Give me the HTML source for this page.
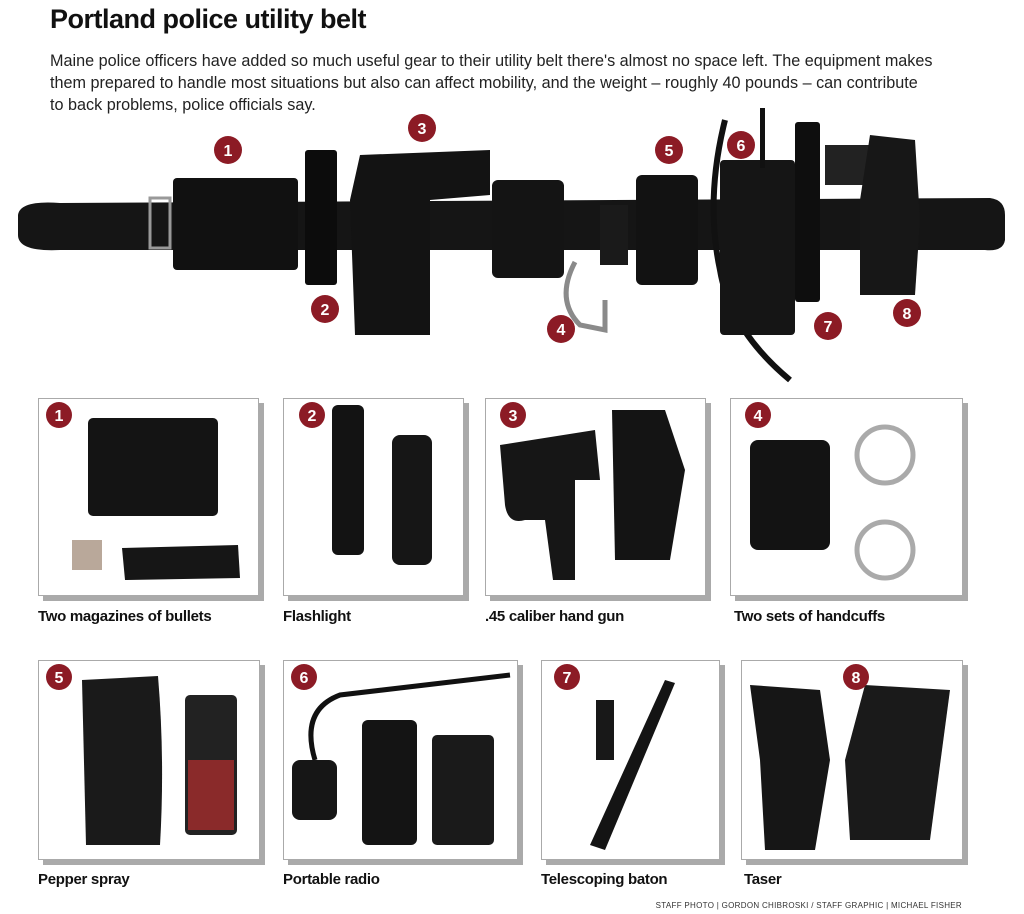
<!DOCTYPE html>
<html><head><meta charset="utf-8"><style>
*{margin:0;padding:0;box-sizing:border-box}
body{width:1024px;height:914px;background:#fff;position:relative;overflow:hidden;font-family:"Liberation Sans",sans-serif;color:#111}
.t{position:absolute;left:50px;top:4px;font-size:27px;font-weight:bold;letter-spacing:-0.5px}
.p{position:absolute;left:50px;top:50px;width:960px;font-size:16.2px;line-height:22px;color:#222;white-space:nowrap}
.box{position:absolute;border:1px solid #aaa;background:#fff;box-shadow:5px 5px 0 #aaa}
.lb{position:absolute;font-size:15px;font-weight:bold;letter-spacing:-0.3px}
.cr{position:absolute;right:62px;top:901px;font-size:8px;color:#333;letter-spacing:0.3px}
svg{position:absolute;left:0;top:0}
</style></head><body>
<div class="t">Portland police utility belt</div>
<div class="p">Maine police officers have added so much useful gear to their utility belt there's almost no space left. The equipment makes<br>them prepared to handle most situations but also can affect mobility, and the weight – roughly 40 pounds – can contribute<br>to back problems, police officials say.</div>

<div class="box" style="left:38px;top:398px;width:221px;height:198px"></div>
<div class="box" style="left:283px;top:398px;width:181px;height:198px"></div>
<div class="box" style="left:485px;top:398px;width:221px;height:198px"></div>
<div class="box" style="left:730px;top:398px;width:233px;height:198px"></div>
<div class="box" style="left:38px;top:660px;width:222px;height:200px"></div>
<div class="box" style="left:283px;top:660px;width:235px;height:200px"></div>
<div class="box" style="left:541px;top:660px;width:179px;height:200px"></div>
<div class="box" style="left:741px;top:660px;width:222px;height:200px"></div>

<svg width="1024" height="914" viewBox="0 0 1024 914">
<path d="M18 215 Q20 200 60 203 L990 198 Q1005 200 1005 215 L1005 240 Q1003 252 985 250 L60 250 Q18 252 18 235Z" fill="#151515"/>
<rect x="150" y="198" width="20" height="50" fill="none" stroke="#999" stroke-width="3"/>
<rect x="173" y="178" width="125" height="92" rx="4" fill="#111"/>
<rect x="305" y="150" width="32" height="135" rx="3" fill="#0c0c0c"/>
<path d="M360 155 L490 150 L490 195 L430 200 L430 335 L355 335 L350 200Z" fill="#131313"/>
<rect x="492" y="180" width="72" height="98" rx="6" fill="#141414"/>
<path d="M575 262 Q555 300 580 325 L605 330 L605 300" fill="none" stroke="#8a8a8a" stroke-width="5"/>
<rect x="600" y="205" width="28" height="60" fill="#1a1a1a"/>
<rect x="636" y="175" width="62" height="110" rx="6" fill="#121212"/>
<path d="M725 120 Q705 200 720 270 Q730 330 790 380" fill="none" stroke="#111" stroke-width="6"/>
<rect x="720" y="160" width="75" height="175" rx="4" fill="#151515"/>
<rect x="760" y="108" width="5" height="60" fill="#111"/>
<rect x="795" y="122" width="25" height="180" rx="3" fill="#0e0e0e"/>
<rect x="825" y="145" width="45" height="40" fill="#222"/>
<path d="M870 135 L915 140 L920 220 L915 295 L860 295 L860 200Z" fill="#171717"/>
<rect x="88" y="418" width="130" height="98" rx="5" fill="#141414"/>
<rect x="72" y="540" width="30" height="30" fill="#b9a89a"/>
<path d="M122 548 L238 545 L240 578 L125 580Z" fill="#161616"/>
<rect x="332" y="405" width="32" height="150" rx="6" fill="#131313"/>
<rect x="392" y="435" width="40" height="130" rx="8" fill="#161616"/>
<path d="M500 445 L595 430 L600 480 L575 480 L575 580 L553 580 L545 520 L525 520 Q508 525 505 505Z" fill="#161616"/>
<path d="M612 410 L665 410 L685 470 L670 560 L615 560 Z" fill="#141414"/>
<rect x="750" y="440" width="80" height="110" rx="8" fill="#131313"/>
<circle cx="885" cy="455" r="28" fill="none" stroke="#aaa" stroke-width="5"/>
<circle cx="885" cy="550" r="28" fill="none" stroke="#aaa" stroke-width="5"/>
<path d="M82 680 L158 676 Q165 760 160 845 L86 845 Z" fill="#1a1a1a"/>
<rect x="185" y="695" width="52" height="140" rx="5" fill="#222"/>
<rect x="188" y="760" width="46" height="70" fill="#8a2a2a"/>
<path d="M315 760 Q300 710 340 695 L510 675" fill="none" stroke="#111" stroke-width="5"/>
<rect x="292" y="760" width="45" height="60" rx="8" fill="#161616"/>
<rect x="362" y="720" width="55" height="125" rx="6" fill="#141414"/>
<rect x="432" y="735" width="62" height="110" rx="5" fill="#1a1a1a"/>
<rect x="596" y="700" width="18" height="60" fill="#181818"/>
<path d="M665 680 L675 683 L605 850 L590 845Z" fill="#141414"/>
<path d="M750 685 L820 690 L830 760 L815 850 L765 850 L760 760Z" fill="#161616"/>
<path d="M865 685 L950 690 L930 840 L850 840 L845 760Z" fill="#1a1a1a"/>
<g fill="#8c1b25">
<circle cx="228" cy="150" r="14"/><circle cx="422" cy="128" r="14"/><circle cx="669" cy="150" r="14"/><circle cx="741" cy="145" r="14"/>
<circle cx="325" cy="309" r="14"/><circle cx="561" cy="329" r="14"/><circle cx="828" cy="326" r="14"/><circle cx="907" cy="313" r="14"/>
<circle cx="59" cy="415" r="13"/><circle cx="312" cy="415" r="13"/><circle cx="513" cy="415" r="13"/><circle cx="758" cy="415" r="13"/>
<circle cx="59" cy="677" r="13"/><circle cx="304" cy="677" r="13"/><circle cx="567" cy="677" r="13"/><circle cx="856" cy="677" r="13"/>
</g>
<g fill="#fff" font-family="Liberation Sans" font-weight="bold" font-size="16" text-anchor="middle">
<text x="228" y="156">1</text><text x="422" y="134">3</text><text x="669" y="156">5</text><text x="741" y="151">6</text>
<text x="325" y="315">2</text><text x="561" y="335">4</text><text x="828" y="332">7</text><text x="907" y="319">8</text>
<text x="59" y="421">1</text><text x="312" y="421">2</text><text x="513" y="421">3</text><text x="758" y="421">4</text>
<text x="59" y="683">5</text><text x="304" y="683">6</text><text x="567" y="683">7</text><text x="856" y="683">8</text>
</g>
</svg>

<div class="lb" style="left:38px;top:608px">Two magazines of bullets</div>
<div class="lb" style="left:283px;top:608px">Flashlight</div>
<div class="lb" style="left:485px;top:608px">.45 caliber hand gun</div>
<div class="lb" style="left:734px;top:608px">Two sets of handcuffs</div>
<div class="lb" style="left:38px;top:871px">Pepper spray</div>
<div class="lb" style="left:283px;top:871px">Portable radio</div>
<div class="lb" style="left:541px;top:871px">Telescoping baton</div>
<div class="lb" style="left:744px;top:871px">Taser</div>
<div class="cr">STAFF PHOTO | GORDON CHIBROSKI / STAFF GRAPHIC | MICHAEL FISHER</div>
</body></html>
